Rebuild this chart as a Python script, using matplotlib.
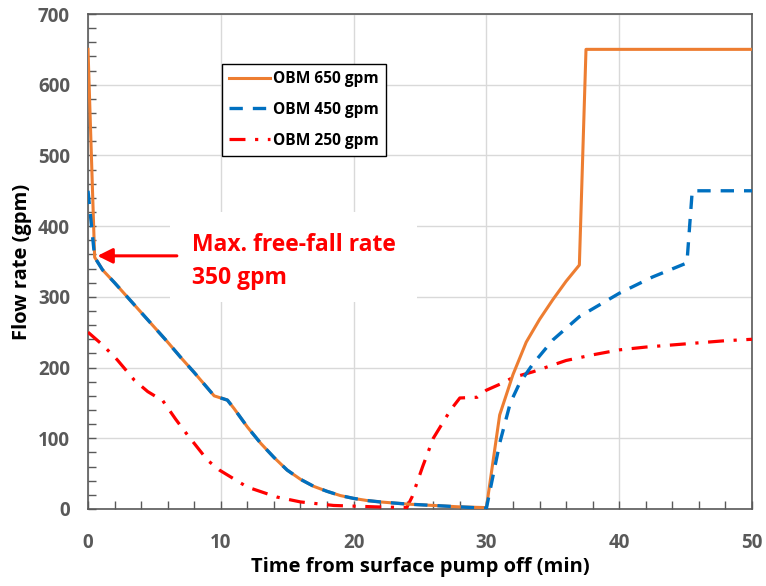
import matplotlib
matplotlib.use("Agg")
import matplotlib.pyplot as plt
from matplotlib.patches import Rectangle
from matplotlib.ticker import MultipleLocator

plt.rcParams['font.family'] = ['Open Sans', 'DejaVu Sans']

# OBM 650 gpm
t650 = [0, 0.5, 1.1, 2, 3, 4, 5, 6, 7, 8, 9, 9.5, 10.5, 11, 12, 13, 14, 15, 16, 17, 18, 19, 20,
        21, 22, 24, 26, 28, 30, 31, 32, 33, 34, 35, 36, 37, 37.5, 50]
q650 = [650, 356, 338, 320, 299, 278, 257, 236, 214, 193, 171, 160, 154, 142, 116, 93, 73, 55, 42, 32, 25, 19, 15,
        12, 10, 7, 5, 3, 2, 133, 190, 236, 268, 296, 322, 345, 650, 650]

# OBM 450 gpm
t450 = [0, 0.5, 1.1, 2, 3, 4, 5, 6, 7, 8, 9, 9.5, 10.5, 11, 12, 13, 14, 15, 16, 17, 18, 19, 20,
        21, 22, 24, 26, 28, 30, 31, 31.8, 32.5, 33.5, 35, 37, 40, 42.5, 45.1, 45.5, 50]
q450 = [450, 356, 338, 320, 299, 278, 257, 236, 214, 193, 171, 160, 154, 142, 116, 93, 73, 55, 42, 32, 25, 19, 15,
        12, 10, 7, 5, 3, 1, 93, 150, 178, 205, 239, 272, 305, 328, 348, 450, 450]

# OBM 250 gpm
t250 = [0, 1.1, 2.2, 3.5, 4.5, 5.2, 5.6, 6.6, 7.4, 9.0, 9.9, 12, 14.2, 16, 18.5, 21.7, 24, 24.4, 25.2, 26.0, 27.3,
        28, 29.3, 30, 31.2, 32, 33.5, 36, 38, 40, 42, 44, 46, 48, 50]
q250 = [250, 232, 211, 182, 166, 158, 154, 127, 107, 69, 55, 31, 17, 10, 5, 3, 2, 17, 60, 100, 140,
        157, 158, 168, 178, 186, 194, 210, 218, 225, 229, 232, 235, 238, 240]

xlabel = "Time from surface pump off (min)"
ylabel = "Flow rate (gpm)"
labels = ["OBM 650 gpm", "OBM 450 gpm", "OBM 250 gpm"]

fig = plt.figure(figsize=(7.66, 5.86), dpi=100)
ax = fig.add_axes([88/766, 77/586, 664/766, 495/586])

ax.plot(t250, q250, color='#FF0000', lw=2.3, linestyle=(0, (5, 3, 1, 3)), label=labels[2], zorder=3)
ax.plot(t650, q650, color='#ED7D31', lw=2.2, linestyle='-', label=labels[0], zorder=4)
ax.plot(t450, q450, color='#0070C0', lw=2.4, linestyle=(0, (4, 3)), label=labels[1], zorder=5)

ax.set_xlim(0, 50)
ax.set_ylim(0, 700)
ax.xaxis.set_major_locator(MultipleLocator(10))
ax.xaxis.set_minor_locator(MultipleLocator(2))
ax.yaxis.set_major_locator(MultipleLocator(100))
ax.yaxis.set_minor_locator(MultipleLocator(20))
ax.tick_params(which='both', direction='in', top=False, right=False, colors='#595959')
ax.tick_params(which='major', length=6, width=1, labelsize=13.5)
ax.tick_params(axis='x', which='major', pad=17)
ax.tick_params(axis='y', which='major', pad=13)
ax.tick_params(which='minor', length=6, width=1)
for lab in ax.get_xticklabels() + ax.get_yticklabels():
    lab.set_fontweight('bold')
    lab.set_color('#595959')
ax.grid(True, which='major', color='#D9D9D9', lw=1)
ax.set_axisbelow(True)
for s in ax.spines.values():
    s.set_color('#595959')
    s.set_linewidth(1.2)

ax.set_xlabel(xlabel, fontsize=14.5, fontweight='bold', labelpad=3)
ax.set_ylabel(ylabel, fontsize=14.5, fontweight='bold', labelpad=4)

# white box behind annotation
ax.add_patch(Rectangle((6.2, 293), 18.6, 127, facecolor='white', edgecolor='none', zorder=1))
ax.annotate("", xy=(0.5, 358), xytext=(6.9, 358),
            arrowprops=dict(arrowstyle='-|>,head_length=0.9,head_width=0.45', color='#FF0000', lw=2.2),
            zorder=6)
ax.text(7.8, 350, "Max. free-fall rate\n350 gpm", color='#FF0000', fontsize=16.5,
        fontweight='bold', va='center', ha='left', linespacing=1.5, zorder=6)

leg = ax.legend(handles=[ax.lines[1], ax.lines[2], ax.lines[0]], labels=labels,
                loc='upper left', bbox_to_anchor=(0.202, 0.899), borderaxespad=0,
                fancybox=False, edgecolor='black', framealpha=1, handlelength=2.6,
                handletextpad=0.25,
                prop={'weight': 'bold', 'size': 11.2}, labelspacing=0.95, borderpad=0.45)
leg.get_frame().set_linewidth(1)

fig.savefig("out.png", dpi=100)
